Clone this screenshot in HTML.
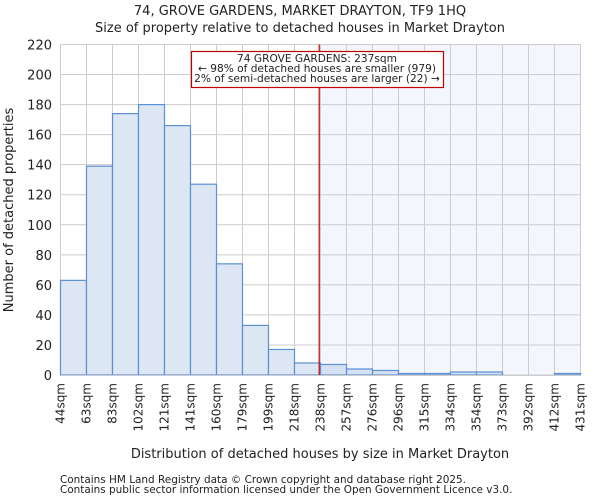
<!DOCTYPE html>
<html><head><meta charset="utf-8"><style>
body{margin:0;background:#fff;font-family:"DejaVu Sans","Liberation Sans",sans-serif}
svg text{font-family:"DejaVu Sans","Liberation Sans",sans-serif;fill:#222}
</style></head><body>
<svg id="c" width="600" height="500"></svg>
<script>
const values=[63,139,174,180,166,127,74,33,17,8,7,4,3,1,1,2,2,0,0,1];
const labels=["44sqm","63sqm","83sqm","102sqm","121sqm","141sqm","160sqm","179sqm","199sqm","218sqm","238sqm","257sqm","276sqm","296sqm","315sqm","334sqm","354sqm","373sqm","392sqm","412sqm","431sqm"];
const yTicks=[0,20,40,60,80,100,120,140,160,180,200,220];
const markerBin=9.95;
const NS="http://www.w3.org/2000/svg";
const svg=document.getElementById('c');
const X0=60.5,X1=580.5,Y0=375,Y1=44.5,YMAX=220;
const bw=(X1-X0)/values.length;
const xs=i=>X0+i*bw;
const ys=v=>Y0-(v/YMAX)*(Y0-Y1);
function mk(t,a,txt){const e=document.createElementNS(NS,t);for(const k in a)e.setAttribute(k,a[k]);if(txt!==undefined)e.textContent=txt;svg.appendChild(e);return e;}
let sh=mk('rect',{x:xs(markerBin),y:Y1,width:X1-xs(markerBin),height:Y0-Y1,fill:'#f3f6fd'});


yTicks.forEach(v=>{let g=mk('line',{x1:X0,x2:X1,y1:ys(v),y2:ys(v),stroke:'#cccccc','stroke-width':1});


let t=mk('text',{x:52,y:ys(v)+5,'text-anchor':'end','font-size':13},v);

});
labels.forEach((l,i)=>{let g=mk('line',{x1:xs(i),x2:xs(i),y1:Y1,y2:Y0,stroke:'#cccccc','stroke-width':1});


let t=mk('text',{x:0,y:0,'text-anchor':'end','font-size':12,transform:`translate(${xs(i)+4},383) rotate(-90)`},l);

});
values.forEach((v,i)=>{let b=mk('rect',{x:xs(i),y:ys(v),width:bw,height:Y0-ys(v),fill:i>=10?'#d6e1f3':'#dde7f4',stroke:'#5b8fd6','stroke-width':1.2});

});
mk('line',{x1:X0,x2:X1,y1:Y0+0.5,y2:Y0+0.5,stroke:'#cccccc'});
let m=mk('line',{x1:xs(markerBin),x2:xs(markerBin),y1:Y1,y2:Y0,stroke:'#c00000','stroke-width':1.2});


let bx=mk('rect',{x:191.5,y:51.5,width:252,height:36,fill:'#fff',stroke:'#c00000','stroke-width':1.2});


["74 GROVE GARDENS: 237sqm","← 98% of detached houses are smaller (979)","2% of semi-detached houses are larger (22) →"].forEach((s,i)=>{let t=mk('text',{x:317,y:62+i*10,'text-anchor':'middle','font-size':10.6},s);

});
let t1=mk('text',{x:300,y:15,'text-anchor':'middle','font-size':13},'74, GROVE GARDENS, MARKET DRAYTON, TF9 1HQ');


let t2=mk('text',{x:300,y:32,'text-anchor':'middle','font-size':13},'Size of property relative to detached houses in Market Drayton');


let xt=mk('text',{x:320,y:458,'text-anchor':'middle','font-size':13},'Distribution of detached houses by size in Market Drayton');


let yt=mk('text',{x:0,y:0,'text-anchor':'middle','font-size':13,transform:'translate(13,210) rotate(-90)'},'Number of detached properties');


["Contains HM Land Registry data © Crown copyright and database right 2025.","Contains public sector information licensed under the Open Government Licence v3.0."].forEach((s,i)=>{let t=mk('text',{x:60,y:483+i*10,'font-size':10.45,fill:'#444'},s);

});
</script>
</body></html>
